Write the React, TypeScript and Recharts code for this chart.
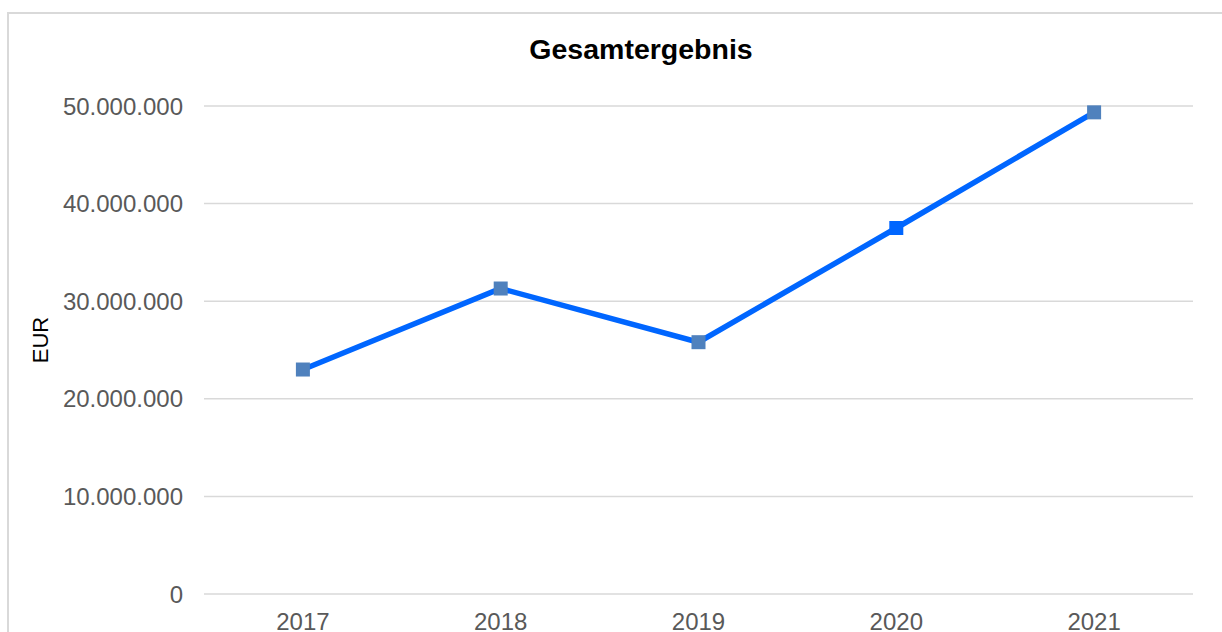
import { LineChart, Line, XAxis, YAxis, CartesianGrid, Label } from 'recharts'

const YEARS = ['2017', '2018', '2019', '2020', '2021']
const RESULT = [23000000, 31300000, 25800000, 37500000, 49350000]
const Y_TICKS = [0, 10000000, 20000000, 30000000, 40000000, 50000000]
const HIGHLIGHT_YEARS = ['2020']

const TITLE = 'Gesamtergebnis'
const Y_LABEL = 'EUR'

const data = YEARS.map((year, i) => ({ year, value: RESULT[i] }))

const FONT = '"Liberation Sans", Arial, sans-serif'
const LINE_COLOR = '#0066ff'
const MARKER_COLOR = '#4f81bd'
const GRID_COLOR = '#d9d9d9'
const TEXT_COLOR = '#595959'

const fmt = (v: number) => String(v).replace(/\B(?=(\d{3})+(?!\d))/g, '.')

const SquareDot = (props: any) => {
  const { cx, cy, index, payload } = props
  if (cx == null || cy == null) return <g key={index} />
  const fill = HIGHLIGHT_YEARS.includes(payload.year) ? LINE_COLOR : MARKER_COLOR
  return <rect key={index} x={cx - 7} y={cy - 7} width={14} height={14} fill={fill} />
}

const EurLabel = () => (
  <text
    x={40}
    y={340}
    transform="rotate(-90 40 340)"
    textAnchor="middle"
    dominantBaseline="central"
    fontFamily={FONT}
    fontSize={22}
    fill="#000"
  >
    {Y_LABEL}
  </text>
)

export default function App() {
  return (
    <div style={{ position: 'absolute', left: 0, top: 0, width: 1222, height: 632, overflow: 'hidden', background: '#fff' }}>
      <div
        style={{
          position: 'absolute',
          left: 7,
          top: 12,
          width: 1400,
          height: 800,
          border: `2px solid ${GRID_COLOR}`,
          boxSizing: 'border-box',
        }}
      />
      <div
        style={{
          position: 'absolute',
          left: 441,
          top: 35,
          width: 400,
          textAlign: 'center',
          fontFamily: FONT,
          fontWeight: 'bold',
          fontSize: 28.5,
          lineHeight: '28px',
          color: '#000',
        }}
      >
        {TITLE}
      </div>
      <div style={{ position: 'absolute', left: 0, top: 0 }}>
        <LineChart width={1222} height={680} data={data} margin={{ top: 106, right: 29, bottom: 46, left: 0 }}>
          <CartesianGrid vertical={false} stroke={GRID_COLOR} strokeWidth={1.5} />
          <XAxis
            dataKey="year"
            scale="band"
            height={40}
            axisLine={false}
            tickLine={false}
            tickSize={0}
            tickMargin={19}
            tick={{ fill: TEXT_COLOR, fontSize: 24, fontFamily: FONT }}
          />
          <YAxis
            width={204}
            domain={[0, 50000000]}
            ticks={Y_TICKS}
            tickFormatter={fmt}
            axisLine={false}
            tickLine={false}
            tickSize={0}
            tickMargin={21}
            tick={{ fill: TEXT_COLOR, fontSize: 24, fontFamily: FONT }}
          >
            <Label content={<EurLabel />} />
          </YAxis>
          <Line
            type="linear"
            dataKey="value"
            stroke={LINE_COLOR}
            strokeWidth={5.5}
            dot={SquareDot}
            activeDot={false}
            isAnimationActive={false}
          />
        </LineChart>
      </div>
    </div>
  )
}
